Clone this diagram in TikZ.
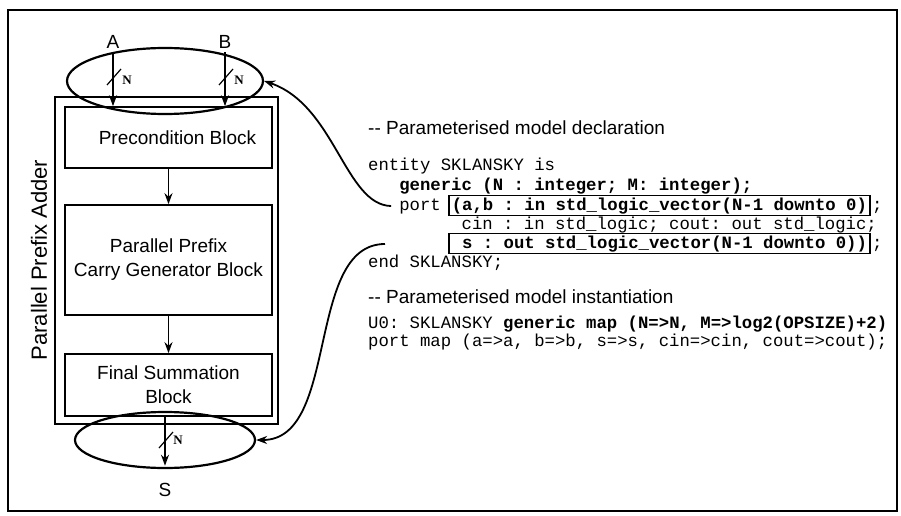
\documentclass[tikz,border=0pt]{standalone}
\usepackage{amsmath}
\usepackage{fontspec}
\setmainfont{Liberation Sans}
\setmonofont{Liberation Mono}
\newfontfamily\busfont{Liberation Serif}
\newcommand\codefont{\ttfamily\fontsize{17.3}{20}\selectfont}
\usetikzlibrary{arrows.meta,shapes.geometric}

\begin{document}
\begin{tikzpicture}[x=1pt,y=-1pt,>={Stealth[length=11pt,width=8pt]},
    font=\fontsize{19}{24}\selectfont,
    blockbox/.style={draw,line width=1.7pt,minimum width=207pt,align=center,inner sep=0pt},
    ring/.style={draw,ellipse,line width=2.2pt,inner sep=0pt},
    code/.style={anchor=base west,inner sep=0pt,font=\codefont},
    portbox/.style={code,draw,line width=1.5pt,inner xsep=3pt,inner ysep=2pt,font=\codefont\bfseries},
    busmark/.style={font=\busfont\bfseries\fontsize{13}{14}\selectfont,inner sep=0pt}]
    \useasboundingbox (0,0) rectangle (901,516);
    \draw[line width=1.2pt] (8,10) rectangle (897,511);
    \def\cw{10.38}

    \node[draw,line width=1.2pt,minimum width=223pt,minimum height=327pt,inner sep=0pt] (adder) at (166.5,260.5) {};
    \node[rotate=90,font=\fontsize{22}{24}\selectfont] (addername) at (39,260) {Parallel Prefix Adder};
    \node[blockbox,minimum height=61pt] (precond) at (168.5,137.5) {\hspace*{18pt}Precondition Block};
    \node[blockbox,minimum height=110pt] (carrygen) at (168.5,260) {Parallel Prefix\\Carry Generator Block};
    \node[blockbox,minimum height=62pt] (finalsum) at (168.5,385) {Final Summation\\Block};
    \draw[->,line width=1.7pt] (precond) -- (carrygen);
    \draw[->,line width=1.7pt] (carrygen) -- (finalsum);

    \node[ring,minimum width=196pt,minimum height=66pt] (topring) at (165,81) {};
    \node[ring,minimum width=180pt,minimum height=56pt] (botring) at (165,440) {};
    \foreach \x/\n in {113/A,225/B} {
        \node (in\n) at (\x,42) {\n};
        \draw[->,line width=1.7pt] (in\n) -- (in\n |- precond.north);
        \draw[line width=1.2pt] (\x-6,85) -- (\x+8,69);
        \node[busmark] (n\n) at (\x+14,80) {N};
    }
    \node (outS) at (165,490) {S};
    \draw[->,line width=1.7pt,shorten >=14pt] (finalsum.south -| outS.north) -- (outS.north);
    \draw[line width=1.2pt] (159,448) -- (173,432);
    \node[busmark] (nS) at (178,440) {N};

    \node[anchor=base west,inner sep=0pt] (declhead) at (368,134) {{-}{-} Parameterised model declaration};
    \node[code] (entityln) at (368,170) {entity SKLANSKY is};
    \node[code,font=\codefont\bfseries] (genericln) at ({368+3*\cw},190) {generic (N : integer; M: integer);};
    \node[code] (portkw) at ({368+3*\cw},210) {port};
    \node[portbox] (abbox) at ({368+8*\cw-3},210) {(a,b : in std\_logic\_vector(N-1 downto 0)};
    \node[code] (absemi) at ([xshift=1pt]abbox.east |- abbox.base) {;};
    \node[code] (cinln) at ({368+9*\cw},229) {cin : in std\_logic; cout: out std\_logic;};
    \node[portbox] (sbox) at ({368+8*\cw-3},248) {\hphantom{(}s : out std\_logic\_vector(N-1 downto 0))};
    \node[code] (ssemi) at ([xshift=1pt]sbox.east |- sbox.base) {;};
    \node[code] (endln) at (368,267) {end SKLANSKY;};

    \node[anchor=base west,inner sep=0pt] (insthead) at (368,303) {{-}{-} Parameterised model instantiation};
    \node[code] (u0ln) at (368,328) {U0: SKLANSKY \textbf{generic map (N=>N, M=>log2(OPSIZE)+2)}};
    \node[code] (portmapln) at (368,346) {port map (a=>a, b=>b, s=>s, cin=>cin, cout=>cout);};

    \coordinate (sfrom) at (385,244);
    \draw[->,line width=1.8pt] ([xshift=-8pt]portkw.west) .. controls (345,205) and (335,105) .. (topring.east);
    \draw[->,line width=1.8pt] (sfrom) .. controls (305,244) and (340,440) .. (botring.east);
\end{tikzpicture}
\end{document}
